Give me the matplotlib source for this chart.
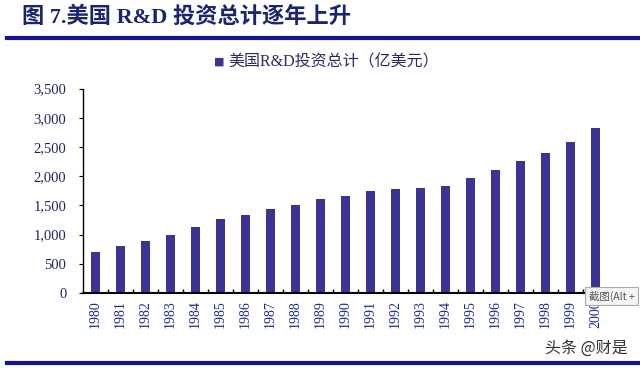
import matplotlib.pyplot as plt
from matplotlib.lines import Line2D
from matplotlib.ticker import FuncFormatter

# 美国 R&D 投资总计（亿美元）
years = [str(y) for y in range(1980, 2001)]
values = [710, 812, 898, 1000, 1132, 1274, 1342, 1434, 1513, 1610,
          1666, 1752, 1786, 1798, 1832, 1968, 2110, 2264, 2400, 2588, 2817]
legend_label = '美国R&D投资总计（亿美元）'
title_text = '图 7.美国 R&D 投资总计逐年上升'

bar_color = '#3d3394'
text_color = '#1f2360'
navy = '#16168a'
serif_cjk = ['Liberation Serif', 'Noto Sans CJK SC']

fig = plt.figure(figsize=(6.4, 3.68), dpi=100)
ax = fig.add_axes([0.1297, 0.2038, 0.8203, 0.5557])

x = range(len(years))
ax.bar(x, values, width=0.38, color=bar_color)
ax.set_xlim(-0.5, len(years) - 0.5)
ax.set_ylim(0, 3500)
ax.set_yticks(range(0, 3501, 500))
ax.yaxis.set_major_formatter(FuncFormatter(lambda v, p: f'{int(v):,}'))
# 刻度线在类别之间，标签在类别中间
ax.set_xticks([i + 0.5 for i in range(len(years) - 1)], minor=False)
ax.set_xticklabels([])
ax.tick_params(axis='x', direction='in', length=3, width=1)
ax.set_xticks(list(x), minor=True)
ax.set_xticklabels(years, minor=True, rotation=90, fontsize=10,
                   family='Liberation Serif', color='#1a2a8a')
ax.tick_params(axis='x', which='minor', length=0, pad=5)
ax.tick_params(axis='y', direction='out', length=3, labelsize=10.5,
               labelcolor=text_color, pad=9)
for lab in ax.get_yticklabels():
    lab.set_family('Liberation Serif')
for s in ['top', 'right']:
    ax.spines[s].set_visible(False)
ax.spines['bottom'].set_linewidth(1.5)
ax.spines['left'].set_linewidth(1.0)

# 标题和横线
fig.text(22 / 640, 1 - 17 / 368, title_text, fontsize=16, fontweight='bold',
         color='#1a2470', family=serif_cjk, va='center', ha='left')
fig.add_artist(Line2D([7 / 640, 1], [1 - 37.5 / 368] * 2, color=navy, lw=3))
fig.add_artist(Line2D([7 / 640, 1], [1 - 363 / 368] * 2, color=navy, lw=3))

# 图例
fig.text(219 / 640, 1 - 62 / 368, '■', fontsize=8, color=bar_color,
         ha='center', va='center', family='DejaVu Sans')
fig.text(228 / 640, 1 - 62 / 368, legend_label, fontsize=11.5,
         color='#2c2c5c', family=serif_cjk, ha='left', va='center')

# 截图提示与水印
fig.text(589 / 640, 1 - 296 / 368, '截图(Alt +', fontsize=7.5, color='#555555',
         family=['Noto Sans CJK SC', 'DejaVu Sans'], ha='left', va='center',
         bbox=dict(boxstyle='square,pad=0.35', fc='#f4f4f4', ec='#aaaaaa', lw=0.8))
fig.text(628 / 640, 1 - 348 / 368, '头条 @财是', fontsize=11.5, color='#333333',
         family=['Noto Sans CJK SC', 'DejaVu Sans'], ha='right', va='center')

fig.savefig('out.png', dpi=100)
